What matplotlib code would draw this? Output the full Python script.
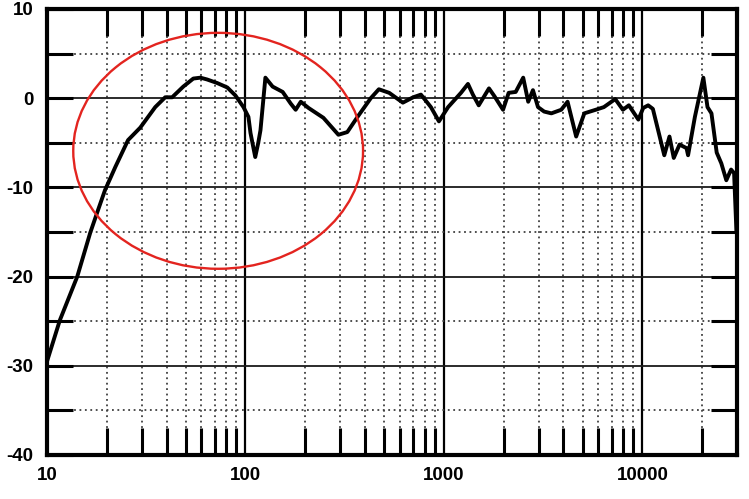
import matplotlib.pyplot as plt
from matplotlib.patches import Ellipse
from matplotlib.ticker import LogLocator, NullFormatter, FixedLocator

plt.rcParams["axes.unicode_minus"] = False

# frequency response (Hz, dB)
freq = [10, 11.6, 14.2, 16.5, 18.1, 19.6, 22.1, 25.6, 29.5, 35.1, 39.4, 42.7,
        48.6, 54.6, 59.3, 64, 72, 81, 89, 97.7, 103.5, 106, 112, 116, 119, 126,
        137, 154, 169, 179, 190, 208, 247, 294, 326, 367, 428, 470, 530, 621,
        700, 766, 860, 944, 1050, 1219, 1322, 1400, 1498, 1687, 1800, 1986,
        2120, 2300, 2510, 2660, 2810, 2980, 3200, 3480, 3900, 4200, 4640, 5100,
        5820, 6400, 7300, 7980, 8550, 9550, 10100, 10700, 11300, 12900, 13700, 14400,
        15400, 16700, 17000, 18400, 20300, 21300, 22300, 23700, 25000, 26500,
        28000, 29000, 29800]
level = [-29.5, -24.9, -20.0, -15.1, -12.5, -10.3, -7.7, -4.7, -3.3, -1.0, 0.1, 0.1,
         1.3, 2.2, 2.3, 2.1, 1.7, 1.2, 0.3, -1.0, -2.1, -3.9, -6.6, -5.0, -3.6, 2.3,
         1.3, 0.7, -0.6, -1.3, -0.4, -1.1, -2.2, -4.1, -3.8, -2.1, 0.0, 1.0, 0.6, -0.5,
         0.1, 0.4, -1.0, -2.6, -1.0, 0.6, 1.6, 0.4, -0.8, 1.1, 0.2, -1.3,
         0.6, 0.7, 2.3, -0.4, 0.9, -1.0, -1.5, -1.7, -1.3, -0.4, -4.3, -1.7,
         -1.3, -1.0, -0.1, -1.3, -0.8, -2.4, -1.1, -0.8, -1.2, -6.4, -4.3, -6.7,
         -5.2, -5.6, -6.4, -2.1, 2.3, -1.0, -1.7, -6.1, -7.3, -9.2,
         -8.0, -8.4, -15.0]

x_labels = ["10", "100", "1000", "10000"]
x_major = [10, 100, 1000, 10000]

fig = plt.figure(figsize=(7.49, 4.99), dpi=100)
ax = fig.add_axes([0.0628, 0.0882, 0.9212, 0.8938])

ax.semilogx(freq, level, color="black", lw=2.8, solid_joinstyle="round", zorder=5)

ax.set_xlim(10, 30000)
ax.set_ylim(-40, 10)

ax.xaxis.set_major_locator(FixedLocator(x_major))
ax.set_xticklabels(x_labels)
ax.xaxis.set_minor_locator(LogLocator(base=10, subs=range(2, 10)))
ax.xaxis.set_minor_formatter(NullFormatter())
ax.set_yticks(range(-40, 11, 10))
ax.set_yticks(range(-35, 10, 10), minor=True)

ax.tick_params(axis="x", which="major", length=0, pad=9)
ax.tick_params(axis="x", which="minor", direction="in", length=19.5, width=2.2,
               top=True, bottom=True, color="black")
ax.tick_params(axis="y", which="both", direction="in", length=19, width=2.2,
               left=True, right=True, pad=10)
for lab in ax.get_xticklabels() + ax.get_yticklabels():
    lab.set_fontsize(13.5)
    lab.set_fontweight("bold")
    lab.set_family("Liberation Sans")

ax.grid(True, axis="x", which="major", color="black", lw=1.6, ls="-")
ax.grid(True, axis="y", which="major", color="0.1", lw=1.3, ls="-")
ax.grid(True, which="minor", color="0.25", lw=1.3, ls=(0, (1, 2)))

for s in ax.spines.values():
    s.set_linewidth(3)

ell = Ellipse((0.248, 0.682), 0.420, 0.529, transform=ax.transAxes,
              fill=False, edgecolor="#e3241f", lw=1.7, zorder=6)
ax.add_patch(ell)

fig.savefig("out.png", dpi=100)
